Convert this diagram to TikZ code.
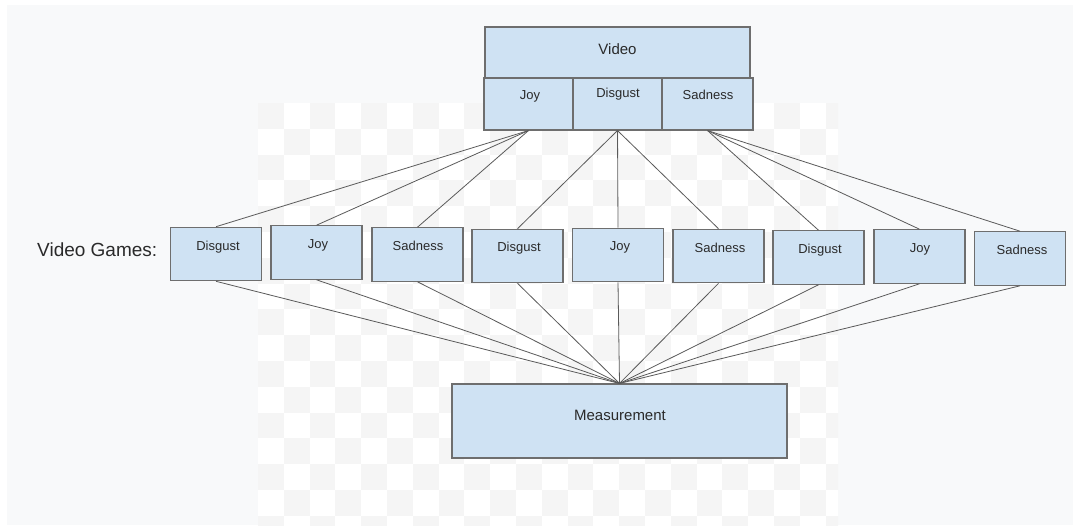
\documentclass[tikz,border=0pt]{standalone}
\usepackage{fontspec}
\setmainfont{Liberation Sans}
\definecolor{bgc}{HTML}{F8F9FA}
\definecolor{chk}{HTML}{F5F5F5}
\definecolor{boxc}{HTML}{CFE2F3}
\definecolor{bordc}{HTML}{6E6E6E}
\definecolor{linec}{HTML}{5A5A5A}
\definecolor{txtc}{HTML}{2A2A2A}
\tikzset{
  box/.style={draw=bordc, fill=boxc, line width=1.1pt, inner sep=0pt, minimum width=91pt, minimum height=53.5pt},
  lbl/.style={anchor=base, inner sep=0pt, text=txtc, font=\fontsize{13}{15.6}\selectfont},
  biglbl/.style={anchor=base, inner sep=0pt, text=txtc, font=\fontsize{15}{18}\selectfont},
  conn/.style={draw=linec, line width=0.8pt}
}
\begin{document}
\begin{tikzpicture}[x=1pt,y=-1pt]
\useasboundingbox (0,0) rectangle (1073,525);
\fill[white] (0,0) rectangle (1073,525);
\fill[bgc] (7,5) rectangle (1073,525);
\begin{scope}
\clip (258,103) rectangle (838,525);
\fill[white] (258,103) rectangle (838,525);
\foreach \i in {0,...,22}{\foreach \j in {0,...,16}{%
  \pgfmathtruncatemacro\p{mod(\i+\j,2)}%
  \ifnum\p=0 \fill[chk] ({258+25.8*\i},{103+25.8*\j}) rectangle +(25.8,25.8);\fi}}
\end{scope}

% coordinates of nodes
\coordinate (cg1) at (216,254);
\coordinate (cg2) at (316.5,252.5);
\coordinate (cg3) at (417.5,254.5);
\coordinate (cg4) at (517.5,256);
\coordinate (cg5) at (618,255);
\coordinate (cg6) at (718.5,256);
\coordinate (cg7) at (818.5,257.5);
\coordinate (cg8) at (919.5,256.5);
\coordinate (cg9) at (1020,258.5);

% top box
\node[box, minimum width=265pt, minimum height=51pt] (video) at (617.5,52.5) {};
\node[box, minimum width=89pt, minimum height=52pt] (tj) at (528.5,104) {};
\node[box, minimum width=89pt, minimum height=52pt] (td) at (617.5,104) {};
\node[box, minimum width=91pt, minimum height=52pt] (ts) at (707.5,104) {};
\node[biglbl] (tvideo) at (617.5,54.4) {Video};
\node[lbl] (ttj) at (530,99.7) {Joy};
\node[lbl] (ttd) at (618,97.7) {Disgust};
\node[lbl] (tts) at (708,99.7) {Sadness};

% measurement
\node[box, minimum width=335pt, minimum height=74pt] (meas) at (619.5,421) {};
\node[biglbl] (tmeas) at (620,420.4) {Measurement};

% second row boxes
\foreach \k in {1,...,9}{\node[box] (g\k) at (cg\k) {};}

% connectors
\foreach \k in {1,2,3}{\draw[conn] (tj.south) -- (g\k.north);}
\foreach \k in {4,5,6}{\draw[conn] (td.south) -- (g\k.north);}
\foreach \k in {7,8,9}{\draw[conn] (ts.south) -- (g\k.north);}
\foreach \k in {1,...,9}{\draw[conn] (g\k.south) -- (meas.north);}

% labels
\node[lbl] (l1) at (218,250.7) {Disgust};
\node[lbl] (l2) at (318,248.7) {Joy};
\node[lbl] (l3) at (418,250.7) {Sadness};
\node[lbl] (l4) at (519,251.7) {Disgust};
\node[lbl] (l5) at (620,250.7) {Joy};
\node[lbl] (l6) at (720,252.7) {Sadness};
\node[lbl] (l7) at (820,253.7) {Disgust};
\node[lbl] (l8) at (920,252.7) {Joy};
\node[lbl] (l9) at (1022,254.7) {Sadness};

\node[anchor=base west, inner sep=0pt, text=txtc, font=\fontsize{19}{22}\selectfont] (vg) at (37,256.8) {Video Games:};
\end{tikzpicture}
\end{document}
